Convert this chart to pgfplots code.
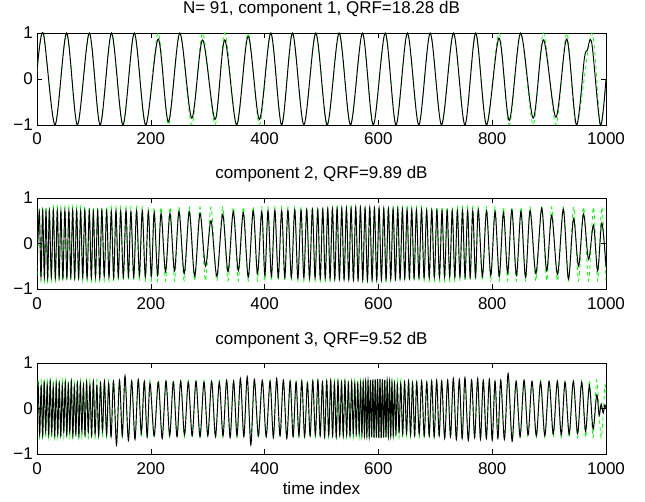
\documentclass[border=0pt]{standalone}
\usepackage{fontspec}
\setmainfont{Liberation Sans}
\usepackage{pgfplots}
\usepackage{pgfplotstable}
\pgfplotsset{compat=1.18}
\definecolor{mgreen}{RGB}{0,255,0}
\newcommand\fs{\fontsize{17}{20}\selectfont}

\pgfplotstableread{
x b g
0 0.16 0.16
11 1 1
31.6 -1 -1
52 1 1
71 -1 -1
92 1 1
111 -1 -1
131 1 1
151 -1 -1
171 1 1
191 -1 -1
213 0.87 1
231 -0.93 -1
251 1 1
272 -0.85 -1
291 0.85 1
313 -0.88 -1
330 0.85 1
351 -1 -1
371 0.93 1
391 -0.88 -1
411 1 1
430 -1 -1
449 1 1
469 -1 -1
490 1 1
510 -1 -1
531 1 1
551 -1 -1
572 1 1
591 -1 -1
612 1 1
631 -1 -1
651 1 1
671 -1 -1
691 1 1
711 -1 -1
732 1 1
752 -1 -1
771 1 1
790 -1 -1
812 0.89 1
830 -0.9 -1
850 1 1
872 -0.85 -1
890 0.85 1
912 -0.83 -1
931 0.87 1
948 -1 -1
962 0.45 nan
967 0.62 nan
975 0.78 1
990 -1 -1
1000 0 0
}\compA

\pgfplotstableread{
x b g
0 -0.6 -0.7
4 0.7 0.8
7 -0.74 -0.82
10 0.72 0.8
12.9 -0.75 -0.82
15.8 0.7 0.8
18.8 -0.76 -0.82
21.7 0.72 0.8
25.2 -0.74 -0.82
28.7 0.73 0.8
32.2 -0.76 -0.82
35.7 0.72 0.8
38.9 -0.75 -0.82
42 0.71 0.8
45.5 -0.76 -0.82
49 0.73 0.8
52.5 -0.75 -0.82
56 0.72 0.8
59.4 -0.74 -0.82
62.7 0.73 0.8
66.2 -0.76 -0.82
69.7 0.72 0.8
73.2 -0.75 -0.82
76.7 0.71 0.8
80.4 -0.74 -0.82
84 0.73 0.8
88 -0.76 -0.82
91.9 0.72 0.8
95.5 -0.75 -0.82
99 0.7 0.8
102.8 -0.74 -0.82
106.6 0.72 0.8
110.3 -0.76 -0.82
114 0.73 0.8
118.2 -0.72 -0.82
122.4 0.72 0.8
126.5 -0.74 -0.82
130.6 0.7 0.8
134.7 -0.75 -0.82
138.8 0.72 0.8
142.9 -0.73 -0.82
147 0.71 0.8
151.7 -0.74 -0.82
156.4 0.73 0.8
160.7 -0.72 -0.82
165 0.7 0.8
170 -0.74 -0.82
175 0.72 0.8
180 -0.7 -0.82
185 0.72 0.8
190.4 -0.73 -0.82
195.7 0.7 0.8
200.9 -0.72 -0.82
206 0.68 0.8
212 -0.7 -0.82
218 0.66 0.8
225.9 -0.62 -0.82
233.7 0.66 0.8
241.7 -0.6 -0.82
249.6 0.7 0.8
258.7 -0.66 -0.82
267.7 0.7 0.8
277.1 -0.72 -0.82
286.5 0.66 0.8
296.2 -0.5 -0.82
305.8 0.5 0.8
316.1 -0.72 -0.82
326.3 0.64 0.8
335.7 -0.62 -0.82
345 0.7 0.8
353.8 -0.6 -0.82
362.6 0.68 0.8
371.3 -0.74 -0.82
380 0.72 0.8
387.5 -0.66 -0.82
395 0.7 0.8
400.5 -0.7 -0.82
406 0.72 0.8
412 -0.72 -0.82
418 0.73 0.8
424 -0.74 -0.82
430 0.72 0.8
435.5 -0.75 -0.82
441 0.73 0.8
447 -0.74 -0.82
453 0.74 0.8
458.5 -0.76 -0.82
464 0.73 0.8
469 -0.75 -0.82
474 0.74 0.8
479 -0.76 -0.82
484 0.75 0.8
488.7 -0.76 -0.82
493.4 0.74 0.8
497.8 -0.77 -0.82
502.2 0.75 0.8
506.6 -0.76 -0.82
511 0.76 0.8
515.1 -0.77 -0.82
519.2 0.76 0.8
523.3 -0.78 -0.82
527.4 0.77 0.8
531.5 -0.78 -0.82
535.6 0.77 0.8
539.7 -0.79 -0.82
543.8 0.78 0.8
547.9 -0.79 -0.82
552 0.78 0.8
556.1 -0.8 -0.82
560.2 0.79 0.8
564.3 -0.8 -0.82
568.4 0.79 0.8
572.5 -0.8 -0.82
576.6 0.78 0.8
580.7 -0.81 -0.82
584.8 0.79 0.8
588.9 -0.8 -0.82
593 0.78 0.8
597.1 -0.8 -0.82
601.2 0.78 0.8
605.3 -0.8 -0.82
609.4 0.77 0.8
613.5 -0.79 -0.82
617.6 0.77 0.8
621.7 -0.78 -0.82
625.8 0.76 0.8
629.9 -0.78 -0.82
634 0.76 0.8
638.1 -0.77 -0.82
642.2 0.75 0.8
646.3 -0.77 -0.82
650.4 0.75 0.8
654.5 -0.76 -0.82
658.6 0.74 0.8
662.7 -0.76 -0.82
666.8 0.74 0.8
671.3 -0.75 -0.82
675.8 0.74 0.8
680.3 -0.75 -0.82
684.8 0.73 0.8
689.3 -0.75 -0.82
693.8 0.73 0.8
698.3 -0.74 -0.82
702.8 0.73 0.8
707.3 -0.74 -0.82
711.8 0.72 0.8
716.3 -0.74 -0.82
720.8 0.72 0.8
725.3 -0.73 -0.82
729.8 0.72 0.8
734.3 -0.74 -0.82
738.8 0.72 0.8
743.3 -0.73 -0.82
747.8 0.73 0.8
752.3 -0.74 -0.82
756.8 0.72 0.8
761.3 -0.74 -0.82
765.8 0.72 0.8
770.7 -0.73 -0.82
775.5 0.74 0.8
782.8 -0.72 -0.82
790 0.72 0.8
797.5 -0.7 -0.82
805 0.7 0.8
812.4 -0.72 -0.82
819.8 0.68 0.8
827.2 -0.65 -0.82
834.5 0.74 0.8
842.6 -0.7 -0.82
850.6 0.7 0.8
858.6 -0.74 -0.82
866.6 0.72 0.8
876.8 -0.66 -0.82
887 0.78 0.8
895.8 -0.6 -0.82
904.5 0.62 0.8
914.8 -0.68 -0.82
925 0.75 0.8
934 -0.78 -0.82
943 0.55 0.8
951.8 -0.5 -0.82
960.5 0.65 0.8
969.3 -0.35 -0.82
978 0.4 0.8
985.3 -0.6 -0.82
992.6 0.45 0.8
1000 -0.5 -0.82
}\compB

\pgfplotstableread{
x b g
0 0.2 0.2
2 0.55 0.62
4.7 -0.56 -0.64
7.3 0.5 0.62
10 -0.6 -0.64
12.6 0.58 0.62
15.3 -0.5 -0.64
17.9 0.52 0.62
20.6 -0.58 -0.64
23.2 0.6 0.62
25.9 -0.52 -0.64
28.5 0.48 0.62
31.2 -0.6 -0.64
33.8 0.56 0.62
36.5 -0.56 -0.64
39.1 0.55 0.62
41.8 -0.6 -0.64
44.4 0.5 0.62
47.1 -0.5 -0.64
49.7 0.58 0.62
52.4 -0.58 -0.64
55 0.52 0.62
57.7 -0.52 -0.64
60.3 0.6 0.62
63 -0.6 -0.64
65.6 0.48 0.62
68.3 -0.56 -0.64
70.9 0.56 0.62
73.6 -0.6 -0.64
76.2 0.55 0.62
78.9 -0.5 -0.64
81.6 0.5 0.62
84.4 -0.58 -0.64
87.2 0.58 0.62
90.1 -0.52 -0.64
93 0.52 0.62
96 -0.6 -0.64
99 0.6 0.62
102.1 -0.56 -0.64
105.2 0.5 0.62
108.4 -0.6 -0.64
111.6 0.56 0.62
115.1 -0.5 -0.64
118.5 0.6 0.62
122.3 -0.58 -0.64
126 0.55 0.62
130.2 -0.62 -0.64
134.4 0.6 0.62
139.7 -0.8 -0.64
145 0.62 0.62
149.9 -0.6 -0.64
154.7 0.72 0.62
160.6 -0.7 -0.64
166.4 0.6 0.62
172.2 -0.68 -0.64
178 0.64 0.62
183.3 -0.55 -0.64
188.6 0.6 0.62
193.6 -0.62 -0.64
198.6 0.56 0.62
205.9 -0.6 -0.64
213.2 0.58 0.62
220 -0.66 -0.64
226.7 0.6 0.62
233.2 -0.6 -0.64
239.6 0.58 0.62
246.1 -0.62 -0.64
252.5 0.6 0.62
259.2 -0.58 -0.64
265.9 0.58 0.62
272.7 -0.6 -0.64
279.4 0.6 0.62
286.5 -0.62 -0.64
293.5 0.58 0.62
300.2 -0.6 -0.64
306.9 0.6 0.62
313.7 -0.62 -0.64
320.4 0.58 0.62
326.9 -0.6 -0.64
333.3 0.62 0.62
339.4 -0.64 -0.64
345.5 0.6 0.62
351.5 -0.6 -0.64
357.5 0.66 0.62
363.5 -0.62 -0.64
369.5 0.7 0.62
375.8 -0.8 -0.64
382 0.64 0.62
389 -0.6 -0.64
396 0.62 0.62
402.8 -0.62 -0.64
409.6 0.6 0.62
415.4 -0.64 -0.64
421.2 0.66 0.62
427.1 -0.6 -0.64
433 0.62 0.62
439 -0.66 -0.64
444.9 0.6 0.62
450.1 -0.62 -0.64
455.3 0.58 0.62
460.3 -0.6 -0.64
465.3 0.6 0.62
470.3 -0.62 -0.64
475.3 0.56 0.62
480 -0.6 -0.64
484.7 0.6 0.62
489.2 -0.58 -0.64
493.7 0.62 0.62
497.7 -0.6 -0.64
501.7 0.58 0.62
505.5 -0.62 -0.64
509.2 0.6 0.62
512.7 -0.58 -0.64
516.2 0.62 0.62
519.5 -0.6 -0.64
522.7 0.56 0.62
525.9 -0.62 -0.64
529 0.6 0.62
532.1 -0.58 -0.64
535.2 0.58 0.62
538.2 -0.6 -0.64
541.2 0.6 0.62
544.2 -0.58 -0.64
547.2 0.56 0.62
550.1 -0.6 -0.64
553 0.58 0.62
555.8 -0.56 -0.64
558.5 0.55 0.62
561.1 -0.55 -0.64
563.7 0.54 0.62
566.2 -0.55 -0.64
568.7 0.56 0.62
571 -0.58 -0.64
573.3 0.58 0.62
575.5 -0.6 -0.64
577.6 0.6 0.62
579.7 -0.61 -0.64
581.8 0.62 0.62
583.9 -0.62 -0.64
586 0.63 0.62
588.1 -0.63 -0.64
590.2 0.64 0.62
592.3 -0.64 -0.64
594.4 0.64 0.62
596.5 -0.64 -0.64
598.6 0.65 0.62
600.7 -0.65 -0.64
602.8 0.65 0.62
604.9 -0.65 -0.64
607 0.64 0.62
609.1 -0.64 -0.64
611.2 0.63 0.62
613.3 -0.63 -0.64
615.4 0.62 0.62
617.5 -0.62 -0.64
619.6 0.6 0.62
621.7 -0.6 -0.64
623.8 0.58 0.62
626.1 -0.58 -0.64
628.3 0.55 0.62
630.8 -0.55 -0.64
633.3 0.52 0.62
636.3 -0.52 -0.64
639.3 0.55 0.62
642.7 -0.56 -0.64
646 0.58 0.62
649.5 -0.55 -0.64
653 0.6 0.62
656.5 -0.58 -0.64
660 0.56 0.62
663.7 -0.6 -0.64
667.3 0.58 0.62
671.7 -0.56 -0.64
676 0.6 0.62
680.5 -0.6 -0.64
685 0.58 0.62
689.3 -0.6 -0.64
693.6 0.6 0.62
698 -0.62 -0.64
702.4 0.62 0.62
706.8 -0.6 -0.64
711.2 0.6 0.62
716.5 -0.66 -0.64
721.7 0.62 0.62
726.7 -0.62 -0.64
731.7 0.66 0.62
737 -0.68 -0.64
742.2 0.64 0.62
747.2 -0.66 -0.64
752.1 0.68 0.62
758 -0.7 -0.64
763.8 0.62 0.62
769.1 -0.64 -0.64
774.4 0.66 0.62
779.4 -0.68 -0.64
784.3 0.62 0.62
789.7 -0.66 -0.64
795 0.64 0.62
800 -0.7 -0.64
805 0.6 0.62
810 -0.66 -0.64
815 0.62 0.62
821.5 -0.68 -0.64
828 0.77 0.62
835 -0.72 -0.64
842 0.6 0.62
849 -0.62 -0.64
856 0.62 0.62
863 -0.58 -0.64
870 0.6 0.62
877.5 -0.6 -0.64
885 0.58 0.62
892.5 -0.6 -0.64
900 0.6 0.62
907.3 -0.56 -0.64
914.5 0.6 0.62
921.3 -0.58 -0.64
928 0.58 0.62
935.3 -0.56 -0.64
942.6 0.6 0.62
950 -0.55 -0.64
957.3 0.58 0.62
964.1 -0.5 -0.64
970.8 0.5 0.62
977.3 -0.45 -0.64
983.7 0.3 0.62
988 -0.15 nan
991.5 0.1 -0.64
995 -0.1 nan
998 0.08 0.5
1000 0 0.3
}\compC

\pgfplotsset{
  comp/.style={
    scale only axis, width=569pt, height=91pt, anchor=south west,
    xmin=0, xmax=1000, ymin=-1, ymax=1,
    xtick={0,200,400,600,800,1000}, xticklabels={0,200,400,600,800,1000},
    ytick={-1,0,1}, yticklabels={−1,0,1},
    tick align=inside, major tick length=5pt,
    every tick/.style={black, line width=0.6pt},
    axis line style={line width=0.8pt},
    ticklabel style={font=\fs},
    xticklabel style={anchor=base, yshift=-20pt},
    yticklabel style={anchor=east, inner sep=0pt, xshift=-4pt},
    title style={font=\fs, at={(0.5,1)}, anchor=base, yshift=13pt},
    label style={font=\fs},
  },
  gline/.style={color=mgreen, dash pattern=on 4pt off 3pt, line width=0.8pt, smooth},
  kline/.style={black, line width=0.95pt, smooth},
}

\begin{document}
\begin{tikzpicture}
\useasboundingbox (0,0) rectangle (645pt,501pt);
\begin{axis}[comp, at={(37pt,376pt)}, height=92pt,
  title={N= 91, component 1, QRF=18.28 dB}]
\addplot[gline] table[x=x,y=g]{\compA};
\addplot[kline] table[x=x,y=b]{\compA};
\end{axis}
\begin{axis}[comp, at={(37pt,212pt)},
  title={component 2, QRF=9.89 dB}]
\addplot[gline] table[x=x,y=g]{\compB};
\addplot[kline] table[x=x,y=b]{\compB};
\end{axis}
\begin{axis}[comp, at={(37pt,47pt)},
  title={component 3, QRF=9.52 dB},
  xlabel={time index},
  xlabel style={at={(0.5,0)}, anchor=base, yshift=-40pt}]
\addplot[gline] table[x=x,y=g]{\compC};
\addplot[kline] table[x=x,y=b]{\compC};
\end{axis}
\end{tikzpicture}
\end{document}
